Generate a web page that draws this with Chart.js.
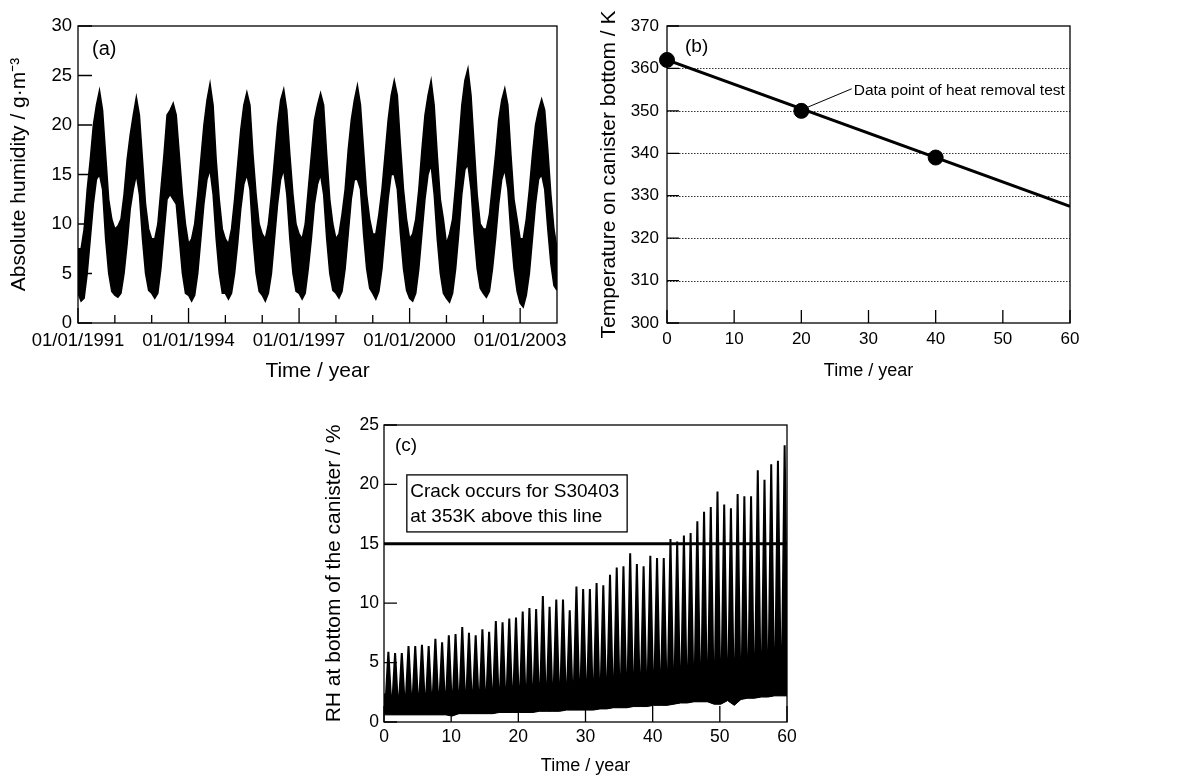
<!DOCTYPE html>
<html>
<head>
<meta charset="utf-8">
<script src="https://cdn.jsdelivr.net/npm/chart.js@4.4.0/dist/chart.umd.min.js"></script>
<style>
  body { margin: 0; background: #fff; }
  #wrap { position: relative; width: 1180px; height: 778px; }
  canvas { position: absolute; }
</style>
</head>
<body>
<div id="wrap">
  <canvas id="chartA" width="590" height="390" style="left:0;top:0"></canvas>
  <canvas id="chartB" width="590" height="390" style="left:590px;top:0"></canvas>
  <canvas id="chartC" width="620" height="388" style="left:290px;top:390px"></canvas>
</div>
<script>
// (a) absolute humidity, band at each month start, Jan 1991 .. Jan 2004
var ahStartYear = 1991;
var ahUpper = [
  7.5, 7.5, 9.5, 13.5, 16.5, 20, 22, 23.5, 21.5, 17, 12.5, 10.5,
  9.5, 9.8, 10.5, 13, 16.5, 19, 21, 22.8, 21, 16.5, 12, 9.5,
  8.5, 8.5, 10, 13.5, 17, 21, 21.5, 22.2, 21, 17, 13, 10,
  8, 8.5, 10, 13, 16.5, 20, 22.5, 24.2, 22, 16.5, 12.5, 9.5,
  8.5, 8, 9.5, 12.5, 16, 19.5, 22, 23.3, 22, 17, 13, 10,
  9, 8.5, 10, 13, 16.5, 20, 22.5, 23.6, 21.5, 17, 13, 10,
  9, 8.5, 10, 13.5, 17, 20.5, 22, 23.2, 22, 17, 12.5, 10,
  8.5, 9, 11, 13.5, 17.5, 20.5, 22.5, 24, 22, 17.5, 13, 10.5,
  9, 9, 11, 13.5, 17, 20.5, 23, 24.5, 23, 18, 13.5, 10.5,
  8.5, 9, 10.5, 13.5, 17.5, 21, 23, 24.5, 22, 17, 12.5, 10.5,
  8, 9, 10.5, 14, 18, 22, 24.5, 25.7, 23, 18, 13, 10,
  9.5, 9.5, 11, 14, 17, 20.5, 22.5, 23.7, 22, 17, 12.5, 10.5,
  8.5, 8.5, 10.5, 13.5, 17, 20, 21.5, 22.6, 21.5, 17.5, 13, 9.5,
  7.5
];
var ahLower = [
  3, 2.2, 2.5, 5, 8.5, 12, 14.5, 15, 13.5, 8.5, 5, 3.2,
  2.8, 2.6, 3, 5, 8, 11.5, 13.5, 15, 13, 8.5, 5, 3.3,
  3, 2.5, 3, 5.5, 9, 12.5, 13, 12.5, 12, 8.5, 5, 3,
  2.8, 2.2, 2.8, 5, 8.5, 12, 14.5, 15.5, 13, 8.5, 5, 3,
  3, 2.4, 3, 5, 8, 11.5, 14, 15, 13.5, 8.5, 5, 3.2,
  2.8, 2.2, 3, 5, 8.5, 12, 14.5, 15.5, 13, 8.5, 5, 3.2,
  3, 2.4, 3, 5.5, 8.5, 12, 14, 15, 13, 8.5, 5, 3.3,
  3, 2.5, 3.2, 5.5, 9, 12.5, 14.5, 14.5, 13.5, 9, 5.5, 3.5,
  3, 2.4, 3.2, 5.5, 9, 12.5, 15, 15, 13.5, 9, 5.5, 3.3,
  2.5, 2.2, 3, 5.5, 9, 12.5, 15, 16, 13, 8.5, 5, 3,
  2.5, 2.1, 3, 5.5, 9, 13, 15.5, 16, 13.5, 9, 5.5, 3.5,
  3, 2.6, 3.2, 5.5, 8.5, 12, 14.5, 15.5, 13.5, 9, 5.5, 3.2,
  2, 1.6, 2.8, 5, 8.5, 12, 14.5, 15, 13.5, 9.5, 6, 3.8,
  3.3
];
var ahYearTicks = [1991, 1992, 1993, 1994, 1995, 1996, 1997, 1998, 1999, 2000, 2001, 2002, 2003];

// (b) canister bottom temperature
var tempYears = [0, 20, 40];
var tempValues = [362, 350, 339];
var tempLineYears = [0, 60];
var tempLineValues = [362, 327.5];

// (c) RH at the canister bottom: per year floor, trough top and peak
var rhStart = 2.4;
var rhEnd = 3.5;
var rhLow = [
  0.6, 0.6, 0.6, 0.6, 0.6, 0.6, 0.6, 0.6, 0.6, 0.6,
  0.5, 0.7, 0.7, 0.7, 0.7, 0.7, 0.7, 0.8, 0.8, 0.8,
  0.8, 0.8, 0.8, 0.9, 0.9, 0.9, 0.9, 1.0, 1.0, 1.0,
  1.0, 1.0, 1.1, 1.1, 1.2, 1.2, 1.2, 1.3, 1.3, 1.3,
  1.4, 1.4, 1.4, 1.5, 1.6, 1.6, 1.7, 1.7, 1.7, 1.5,
  1.5, 1.8, 1.4, 1.9, 2.0, 2.0, 2.1, 2.1, 2.2, 2.2
];
var rhTrough = [
  1.8, 1.7, 1.8, 1.9, 1.8, 1.9, 1.8, 2.0, 1.9, 2.0,
  1.9, 2.0, 2.0, 2.1, 2.0, 2.1, 2.2, 2.1, 2.2, 2.2,
  2.2, 2.3, 2.2, 2.4, 2.3, 2.4, 2.4, 2.5, 2.5, 2.6,
  2.5, 2.6, 2.6, 2.7, 2.7, 2.8, 2.8, 2.9, 2.9, 3.0,
  3.0, 3.1, 3.0, 3.2, 3.2, 3.3, 3.3, 3.4, 3.4, 3.3,
  3.5, 3.6, 3.3, 3.7, 3.8, 3.7, 3.9, 4.0, 4.1, 4.2
];
var rhPeak = [
  5.9, 5.8, 5.8, 6.4, 6.4, 6.5, 6.4, 7.0, 6.7, 7.3,
  7.4, 8.0, 7.5, 7.3, 7.8, 7.6, 8.5, 8.4, 8.7, 8.8,
  9.3, 9.6, 9.5, 10.6, 9.7, 10.3, 10.3, 9.4, 11.4, 11.2,
  11.2, 11.7, 11.5, 12.4, 13.0, 13.1, 14.2, 13.3, 13.1, 14.0,
  13.8, 13.8, 15.4, 15.2, 15.7, 15.9, 16.9, 17.7, 18.1, 19.4,
  18.3, 18.0, 19.2, 19.0, 19.0, 21.2, 20.4, 21.7, 22.0, 23.3
];
var crackRH = 15;

var FONT = '"Liberation Sans", Arial, Helvetica, sans-serif';
Chart.defaults.font.family = FONT;
Chart.defaults.color = '#000';

// box, inward ticks, dotted grid and notes
var frameTicks = {
  id: 'frameTicks',
  beforeDatasetsDraw: function(chart, args, opts) {
    if (!opts.grid) return;
    var a = chart.chartArea, y = chart.scales.y, ctx = chart.ctx;
    ctx.save();
    ctx.strokeStyle = '#333';
    ctx.lineWidth = 1;
    ctx.setLineDash([1.5, 1.5]);
    opts.grid.forEach(function(v) {
      var py = Math.round(y.getPixelForValue(v)) + 0.5;
      ctx.beginPath(); ctx.moveTo(a.left, py); ctx.lineTo(a.right, py); ctx.stroke();
    });
    ctx.restore();
  },
  afterDatasetsDraw: function(chart, args, opts) {
    var a = chart.chartArea, ctx = chart.ctx, x = chart.scales.x, y = chart.scales.y;
    ctx.save();
    ctx.strokeStyle = '#000';
    ctx.lineWidth = 1.3;
    ctx.strokeRect(a.left, a.top, a.right - a.left, a.bottom - a.top);
    ctx.beginPath();
    x.ticks.forEach(function(t) {
      var px = x.getPixelForValue(t.value);
      var len = t.label ? opts.xLen : opts.xMinor;
      ctx.moveTo(px, a.bottom); ctx.lineTo(px, a.bottom - len);
    });
    y.ticks.forEach(function(t) {
      var py = y.getPixelForValue(t.value);
      ctx.moveTo(a.left, py); ctx.lineTo(a.left + opts.yLen, py);
    });
    ctx.stroke();

    ctx.fillStyle = '#000';
    ctx.textBaseline = 'middle';
    ctx.textAlign = 'left';
    ctx.font = opts.panelFont + 'px ' + FONT;
    ctx.fillText(opts.panel, a.left + opts.panelDx, a.top + opts.panelDy);

    if (opts.note) {
      var n = opts.note;
      ctx.lineWidth = 1;
      ctx.beginPath();
      ctx.moveTo(x.getPixelForValue(n.x1), y.getPixelForValue(n.y1));
      ctx.lineTo(x.getPixelForValue(n.x2), y.getPixelForValue(n.y2));
      ctx.stroke();
      ctx.font = n.size + 'px ' + FONT;
      ctx.fillText(n.text, x.getPixelForValue(n.tx), y.getPixelForValue(n.ty));
    }
    if (opts.box) {
      var b = opts.box;
      var l = x.getPixelForValue(b.x1), r = x.getPixelForValue(b.x2);
      var t = y.getPixelForValue(b.y1), bt = y.getPixelForValue(b.y2);
      ctx.fillStyle = '#fff';
      ctx.fillRect(l, t, r - l, bt - t);
      ctx.lineWidth = 1.3;
      ctx.strokeRect(l, t, r - l, bt - t);
      ctx.fillStyle = '#000';
      ctx.font = b.size + 'px ' + FONT;
      b.lines.forEach(function(s, i) {
        ctx.fillText(s, x.getPixelForValue(b.tx), y.getPixelForValue(b.ty[i]));
      });
    }
    ctx.restore();
  }
};

function axisBase(extra) {
  var o = {
    grid: { display: false, drawTicks: false },
    border: { display: false }
  };
  for (var k in extra) o[k] = extra[k];
  return o;
}

// ---------- (a)
var ahPts = { up: [], low: [] };
ahUpper.forEach(function(v, i) { ahPts.up.push({ x: ahStartYear + i / 12, y: v }); });
ahLower.forEach(function(v, i) { ahPts.low.push({ x: ahStartYear + i / 12, y: v }); });

new Chart(document.getElementById('chartA'), {
  type: 'line',
  data: {
    datasets: [
      { data: ahPts.low, borderColor: '#000', borderWidth: 1.5, pointRadius: 0, fill: false, tension: 0 },
      { data: ahPts.up, borderColor: '#000', borderWidth: 1.5, pointRadius: 0, fill: '-1', backgroundColor: '#000', tension: 0 }
    ]
  },
  options: {
    responsive: false, animation: false, devicePixelRatio: 1,
    layout: { padding: { left: 0, top: 26, right: 33, bottom: 0 } },
    plugins: {
      legend: { display: false }, tooltip: { enabled: false },
      frameTicks: { xLen: 15, xMinor: 8, yLen: 14, panel: '(a)', panelFont: 20, panelDx: 14, panelDy: 23 }
    },
    scales: {
      x: axisBase({
        type: 'linear', min: 1991, max: 2004,
        afterBuildTicks: function(s) { s.ticks = ahYearTicks.map(function(v) { return { value: v }; }); },
        afterFit: function(s) { s.height = 67; },
        ticks: {
          autoSkip: false, maxRotation: 0, padding: 7, font: { size: 18.5 },
          callback: function(v) { v = Math.round(v); return (v - 1991) % 3 === 0 ? '01/01/' + v : ''; }
        },
        title: { display: true, text: 'Time / year', font: { size: 21 }, padding: { top: 0, bottom: 6 } }
      }),
      y: axisBase({
        min: 0, max: 30,
        afterFit: function(s) { s.width = 78; },
        ticks: { stepSize: 5, padding: 6, font: { size: 18.5 } },
        title: { display: true, text: 'Absolute humidity / g\u00b7m\u207b\u00b3', font: { size: 21 }, padding: { top: 7, bottom: 0 } }
      })
    }
  },
  plugins: [frameTicks]
});

// ---------- (b)
var tempPts = tempYears.map(function(v, i) { return { x: v, y: tempValues[i] }; });
var tempLine = tempLineYears.map(function(v, i) { return { x: v, y: tempLineValues[i] }; });

new Chart(document.getElementById('chartB'), {
  type: 'line',
  data: {
    datasets: [
      { data: tempPts, showLine: false, pointRadius: 7.5, pointBackgroundColor: '#000', pointBorderColor: '#000', clip: false },
      { data: tempLine, borderColor: '#000', borderWidth: 3, pointRadius: 0, fill: false }
    ]
  },
  options: {
    responsive: false, animation: false, devicePixelRatio: 1,
    layout: { padding: { left: 0, top: 26, right: 110, bottom: 0 } },
    plugins: {
      legend: { display: false }, tooltip: { enabled: false },
      frameTicks: {
        xLen: 13, xMinor: 13, yLen: 12, panel: '(b)', panelFont: 19, panelDx: 18, panelDy: 21,
        grid: [310, 320, 330, 340, 350, 360],
        note: { x1: 21, y1: 350.9, x2: 27.5, y2: 355.2, tx: 27.8, ty: 354.7, size: 15.5, text: 'Data point of heat removal test' }
      }
    },
    scales: {
      x: axisBase({
        type: 'linear', min: 0, max: 60,
        afterFit: function(s) { s.height = 67; },
        ticks: { stepSize: 10, padding: 6, maxRotation: 0, font: { size: 17 } },
        title: { display: true, text: 'Time / year', font: { size: 18 }, padding: { top: 0, bottom: 8 } }
      }),
      y: axisBase({
        min: 300, max: 370,
        afterFit: function(s) { s.width = 77; },
        ticks: { stepSize: 10, padding: 8, font: { size: 17 } },
        title: { display: true, text: 'Temperature on canister bottom / K', font: { size: 21 }, padding: { top: 7, bottom: 0 } }
      })
    }
  },
  plugins: [frameTicks]
});

// ---------- (c)
var rhTop = [{ x: 0, y: rhStart }];
var rhFloor = [{ x: 0, y: rhLow[0] }];
rhPeak.forEach(function(v, i) {
  rhTop.push({ x: i + 0.25, y: rhTrough[i] });
  rhTop.push({ x: i + 0.65, y: v });
  rhTop.push({ x: i + 1.05, y: rhTrough[i] });
  rhFloor.push({ x: i + 0.15, y: rhLow[i] });
});
rhTop.push({ x: 60, y: rhEnd });
rhFloor.push({ x: 60, y: rhLow[rhLow.length - 1] });
var crackLine = [{ x: 0, y: crackRH }, { x: 60, y: crackRH }];

new Chart(document.getElementById('chartC'), {
  type: 'line',
  data: {
    datasets: [
      { data: crackLine, borderColor: '#000', borderWidth: 3, pointRadius: 0, fill: false },
      { data: rhTop, borderColor: '#000', borderWidth: 2, pointRadius: 0, fill: '+1', backgroundColor: '#000', tension: 0 },
      { data: rhFloor, borderColor: '#000', borderWidth: 1, pointRadius: 0, fill: false, tension: 0 }
    ]
  },
  options: {
    responsive: false, animation: false, devicePixelRatio: 1,
    layout: { padding: { left: 0, top: 35, right: 123, bottom: 0 } },
    plugins: {
      legend: { display: false }, tooltip: { enabled: false },
      frameTicks: {
        xLen: 16, xMinor: 16, yLen: 13, panel: '(c)', panelFont: 19, panelDx: 11, panelDy: 21,
        box: { x1: 3.4, x2: 36.2, y1: 20.8, y2: 16.0, tx: 3.9, ty: [19.4, 17.25], size: 19,
               lines: ['Crack occurs for S30403', 'at 353K above this line'] }
      }
    },
    scales: {
      x: axisBase({
        type: 'linear', min: 0, max: 60,
        afterFit: function(s) { s.height = 56; },
        ticks: { stepSize: 10, padding: 5, maxRotation: 0, font: { size: 17.5 } },
        title: { display: true, text: 'Time / year', font: { size: 18 }, padding: { top: 0, bottom: 1 } }
      }),
      y: axisBase({
        min: 0, max: 25,
        afterFit: function(s) { s.width = 94; },
        ticks: { stepSize: 5, padding: 5, font: { size: 17.5 } },
        title: { display: true, text: 'RH at bottom of the canister / %', font: { size: 21 }, padding: { top: 32, bottom: 0 } }
      })
    }
  },
  plugins: [frameTicks]
});
</script>
</body>
</html>
